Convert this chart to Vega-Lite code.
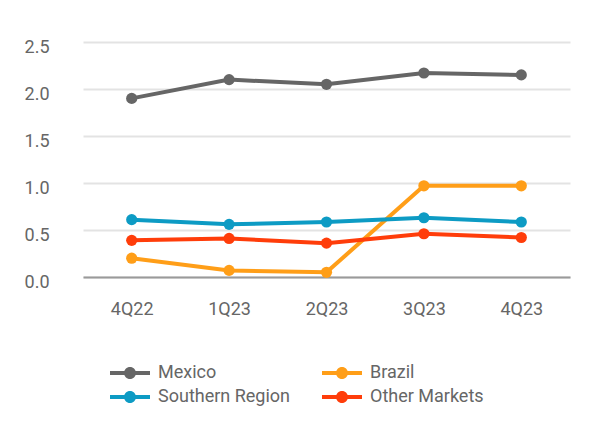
{
  "$schema": "https://vega.github.io/schema/vega-lite/v6.json",
  "width": 487,
  "height": 235,
  "autosize": {"type": "none"},
  "padding": {"left": 83, "top": 42, "right": 30, "bottom": 163},
  "background": "white",
  "config": {
    "view": {"stroke": null},
    "font": "Roboto, sans-serif"
  },
  "data": {
    "values": [
      {"q": "4Q22", "s": "Mexico", "v": 1.90},
      {"q": "1Q23", "s": "Mexico", "v": 2.10},
      {"q": "2Q23", "s": "Mexico", "v": 2.05},
      {"q": "3Q23", "s": "Mexico", "v": 2.17},
      {"q": "4Q23", "s": "Mexico", "v": 2.15},
      {"q": "4Q22", "s": "Brazil", "v": 0.20},
      {"q": "1Q23", "s": "Brazil", "v": 0.07},
      {"q": "2Q23", "s": "Brazil", "v": 0.05},
      {"q": "3Q23", "s": "Brazil", "v": 0.97},
      {"q": "4Q23", "s": "Brazil", "v": 0.97},
      {"q": "4Q22", "s": "Southern Region", "v": 0.61},
      {"q": "1Q23", "s": "Southern Region", "v": 0.56},
      {"q": "2Q23", "s": "Southern Region", "v": 0.585},
      {"q": "3Q23", "s": "Southern Region", "v": 0.63},
      {"q": "4Q23", "s": "Southern Region", "v": 0.585},
      {"q": "4Q22", "s": "Other Markets", "v": 0.39},
      {"q": "1Q23", "s": "Other Markets", "v": 0.41},
      {"q": "2Q23", "s": "Other Markets", "v": 0.36},
      {"q": "3Q23", "s": "Other Markets", "v": 0.46},
      {"q": "4Q23", "s": "Other Markets", "v": 0.42}
    ]
  },
  "mark": {"type": "line", "strokeWidth": 4, "point": {"filled": true, "size": 125, "opacity": 1}},
  "encoding": {
    "x": {
      "field": "q", "type": "ordinal", "sort": null,
      "scale": {"type": "point", "padding": 0.5},
      "axis": {
        "title": null, "labelAngle": 0, "ticks": false,
        "domainColor": "#9a9a9a", "domainWidth": 2,
        "labelFontSize": 18, "labelColor": "#666666", "labelPadding": 23
      }
    },
    "y": {
      "field": "v", "type": "quantitative",
      "scale": {"domain": [0, 2.5]},
      "axis": {
        "title": null, "values": [0, 0.5, 1, 1.5, 2, 2.5], "format": ".1f",
        "domain": false, "ticks": false,
        "gridColor": "#e3e3e3", "gridWidth": 2,
        "labelFontSize": 18, "labelColor": "#666666", "labelPadding": 34,
        "labelOffset": 5
      }
    },
    "color": {
      "field": "s", "type": "nominal",
      "scale": {
        "domain": ["Mexico", "Southern Region", "Brazil", "Other Markets"],
        "range": ["#666666", "#0D9BC4", "#FF9E18", "#FF3D0A"]
      },
      "legend": {
        "title": null, "orient": "none", "legendX": 37, "legendY": 321,
        "columns": 2, "columnPadding": 31, "rowPadding": 5,
        "labelFontSize": 18, "labelColor": "#666666", "labelOffset": 18,
        "symbolType": "M-2,-0.2H2V0.2H-2Z M0.6,0 A0.6,0.6 0 1,1 -0.6,0 A0.6,0.6 0 1,1 0.6,0Z",
        "symbolSize": 400, "symbolStrokeWidth": 0,
        "encode": {"symbols": {"update": {"fill": {"scale": "color", "field": "value"}, "fillOpacity": {"value": 1}, "strokeWidth": {"value": 0}}}}
      }
    }
  }
}
